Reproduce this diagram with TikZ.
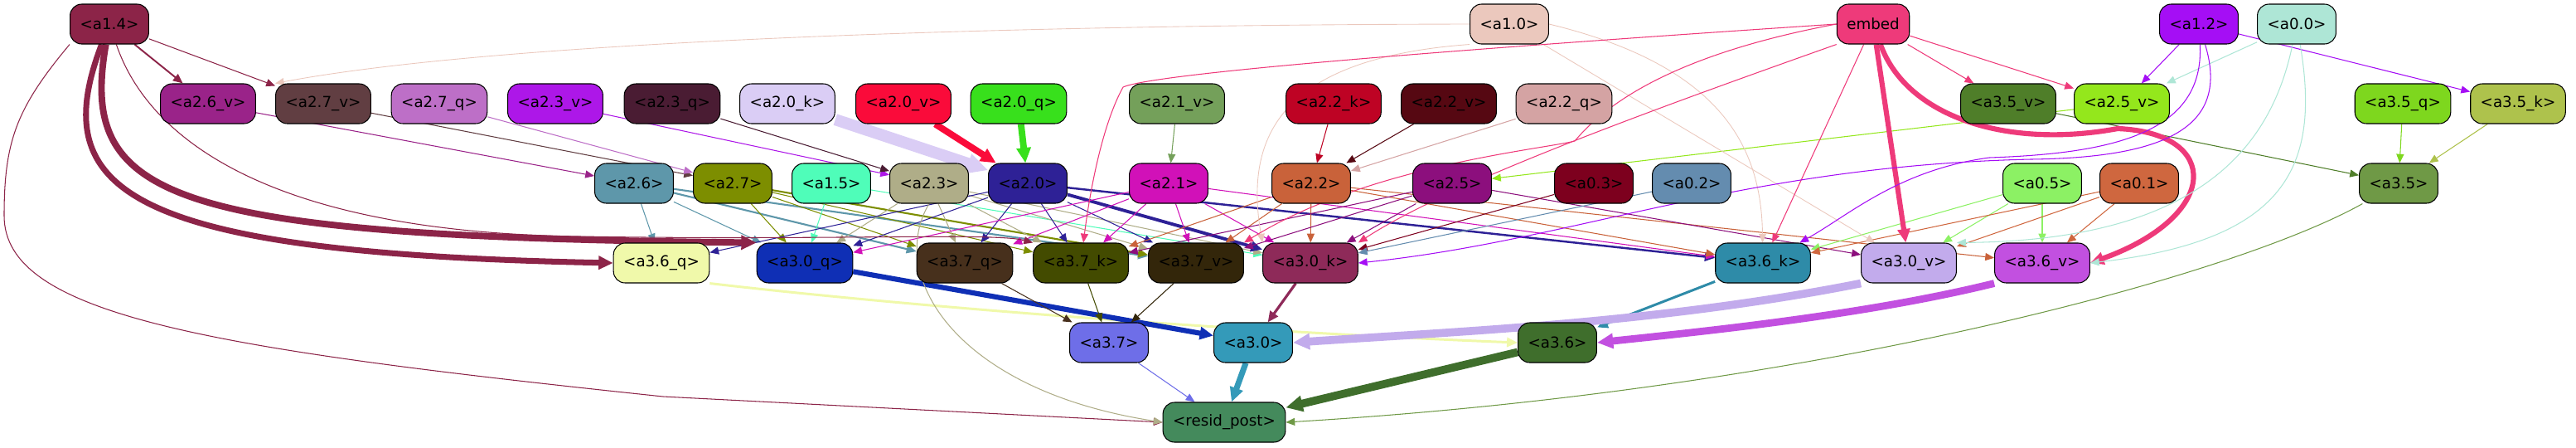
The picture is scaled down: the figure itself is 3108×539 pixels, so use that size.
\documentclass[tikz,border=0pt]{standalone}
\usepackage{fontspec}
\setmainfont{DejaVu Sans}
\usetikzlibrary{arrows.meta,backgrounds}

\definecolor{c14}{HTML}{8C2448}
\definecolor{c10}{HTML}{EBC8BD}
\definecolor{cemb}{HTML}{EE3A7A}
\definecolor{c12}{HTML}{A50EF5}
\definecolor{c00}{HTML}{AEE6D6}
\definecolor{c26v}{HTML}{9A2389}
\definecolor{c27v}{HTML}{613E42}
\definecolor{c27q}{HTML}{BD6FC7}
\definecolor{c23v}{HTML}{AD17E8}
\definecolor{c23q}{HTML}{4A1C33}
\definecolor{c20k}{HTML}{DACDF5}
\definecolor{c20v}{HTML}{FA0B3A}
\definecolor{c20q}{HTML}{38E01C}
\definecolor{c21v}{HTML}{74A05A}
\definecolor{c22k}{HTML}{BE0324}
\definecolor{c22v}{HTML}{560812}
\definecolor{c22q}{HTML}{D4A3A3}
\definecolor{c35v}{HTML}{4F7E29}
\definecolor{c25v}{HTML}{94E71C}
\definecolor{c35q}{HTML}{7ED71E}
\definecolor{c35k}{HTML}{AEC24C}
\definecolor{c26}{HTML}{5E97AA}
\definecolor{c27}{HTML}{7D8E00}
\definecolor{c15}{HTML}{4FFDB9}
\definecolor{c23}{HTML}{AFAD88}
\definecolor{c20}{HTML}{2E2196}
\definecolor{c21}{HTML}{D111B8}
\definecolor{c22}{HTML}{C9623A}
\definecolor{c25}{HTML}{8C0F7D}
\definecolor{c03}{HTML}{7D001E}
\definecolor{c02}{HTML}{648CAF}
\definecolor{c05}{HTML}{8CF164}
\definecolor{c01}{HTML}{CF673F}
\definecolor{c35}{HTML}{6F9946}
\definecolor{c36q}{HTML}{F0F9AA}
\definecolor{c30q}{HTML}{0F2FB5}
\definecolor{c37q}{HTML}{47301C}
\definecolor{c37k}{HTML}{434B00}
\definecolor{c37v}{HTML}{33260A}
\definecolor{c30k}{HTML}{8E2A59}
\definecolor{c36k}{HTML}{2E8BA8}
\definecolor{c30v}{HTML}{C2ABEC}
\definecolor{c36v}{HTML}{C250E0}
\definecolor{c37}{HTML}{6E6EE8}
\definecolor{c30}{HTML}{349AB9}
\definecolor{c36}{HTML}{3F6E2C}
\definecolor{cres}{HTML}{448A5C}

\tikzset{
  box/.style={draw=black, line width=0.6pt, rounded corners=0.28cm, minimum height=0.96cm,
    inner xsep=0.24cm, inner ysep=0pt, font=\fontsize{10.4}{12}\selectfont},
  wire/.style={line width=0.6pt, -{Triangle[length=5.5pt 1.1, width=4.5pt 1.1]}},
}

\begin{document}
\begin{tikzpicture}[x=0.02cm,y=-0.02cm]
\useasboundingbox (0,0) rectangle (3108,539);

% row 1
\node[box, fill=c14] (a14) at (132,29) {<a1.4>};
\node[box, fill=c10] (a10) at (1821,29) {<a1.0>};
\node[box, fill=cemb] (embed) at (2260,29) {embed};
\node[box, fill=c12] (a12) at (2653,29) {<a1.2>};
\node[box, fill=c00] (a00) at (2771,29) {<a0.0>};

% row 2
\node[box, fill=c26v] (a26v) at (251,125) {<a2.6\_v>};
\node[box, fill=c27v] (a27v) at (390,125) {<a2.7\_v>};
\node[box, fill=c27q] (a27q) at (530,125) {<a2.7\_q>};
\node[box, fill=c23v] (a23v) at (670,125) {<a2.3\_v>};
\node[box, fill=c23q] (a23q) at (811,125) {<a2.3\_q>};
\node[box, fill=c20k] (a20k) at (950,125) {<a2.0\_k>};
\node[box, fill=c20v] (a20v) at (1090,125) {<a2.0\_v>};
\node[box, fill=c20q] (a20q) at (1229,125) {<a2.0\_q>};
\node[box, fill=c21v] (a21v) at (1420,125) {<a2.1\_v>};
\node[box, fill=c22k] (a22k) at (1609,125) {<a2.2\_k>};
\node[box, fill=c22v] (a22v) at (1748,125) {<a2.2\_v>};
\node[box, fill=c22q] (a22q) at (1887,125) {<a2.2\_q>};
\node[box, fill=c35v] (a35v) at (2423,125) {<a3.5\_v>};
\node[box, fill=c25v] (a25v) at (2560,125) {<a2.5\_v>};
\node[box, fill=c35q] (a35q) at (2899,125) {<a3.5\_q>};
\node[box, fill=c35k] (a35k) at (3038,125) {<a3.5\_k>};

% row 3
\node[box, fill=c26] (a26) at (765,221) {<a2.6>};
\node[box, fill=c27] (a27) at (884,221) {<a2.7>};
\node[box, fill=c15] (a15) at (1003,221) {<a1.5>};
\node[box, fill=c23] (a23) at (1121,221) {<a2.3>};
\node[box, fill=c20] (a20) at (1240,221) {<a2.0>};
\node[box, fill=c21] (a21) at (1410,221) {<a2.1>};
\node[box, fill=c22] (a22) at (1582,221) {<a2.2>};
\node[box, fill=c25] (a25) at (1752,221) {<a2.5>};
\node[box, fill=c03] (a03) at (1923,221) {<a0.3>};
\node[box, fill=c02] (a02) at (2041,221) {<a0.2>};
\node[box, fill=c05] (a05) at (2464,221) {<a0.5>};
\node[box, fill=c01] (a01) at (2581,221) {<a0.1>};
\node[box, fill=c35] (a35) at (2894,221) {<a3.5>};

% row 4
\node[box, fill=c36q] (a36q) at (798,317) {<a3.6\_q>};
\node[box, fill=c30q] (a30q) at (971,317) {<a3.0\_q>};
\node[box, fill=c37q] (a37q) at (1164,317) {<a3.7\_q>};
\node[box, fill=c37k] (a37k) at (1304,317) {<a3.7\_k>};
\node[box, fill=c37v] (a37v) at (1443,317) {<a3.7\_v>};
\node[box, fill=c30k] (a30k) at (1581,317) {<a3.0\_k>};
\node[box, fill=c36k] (a36k) at (2127,317) {<a3.6\_k>};
\node[box, fill=c30v] (a30v) at (2303,317) {<a3.0\_v>};
\node[box, fill=c36v] (a36v) at (2464,317) {<a3.6\_v>};

% row 5 and output
\node[box, fill=c37] (a37) at (1338,413) {<a3.7>};
\node[box, fill=c30] (a30) at (1512,413) {<a3.0>};
\node[box, fill=c36] (a36) at (1879,413) {<a3.6>};
\node[box, fill=cres] (resid) at (1477,509) {<resid\_post>};

\begin{scope}[on background layer]
% into row 2
\path[draw=c14,wire,line width=1.1pt] (a14) -- (a26v);
\path[draw=c14,wire] (a14) -- (a27v);
\path[draw=c10,wire,line width=0.5pt] (a10.west) .. controls (1200,30) and (600,50) .. (a27v.north west);
\path[draw=cemb,wire] (embed) -- (a35v);
\path[draw=cemb,wire] (embed) -- (a25v);
\path[draw=c12,wire] (a12) -- (a25v);
\path[draw=c00,wire] (a00) -- (a25v);
\path[draw=c12,wire] (a12) -- (a35k);

% into row 3
\path[draw=c26v,wire] (a26v) -- (a26);
\path[draw=c27v,wire] (a27v) -- (a27);
\path[draw=c27q,wire] (a27q) -- (a27);
\path[draw=c23v,wire] (a23v) -- (a23);
\path[draw=c23q,wire] (a23q) -- (a23);
\path[draw=c20k,wire,line width=8pt] (a20k) -- (a20);
\path[draw=c20v,wire,line width=4.5pt] (a20v) -- (a20);
\path[draw=c20q,wire,line width=4.5pt] (a20q) -- (a20);
\path[draw=c21v,wire] (a21v) -- (a21);
\path[draw=c22k,wire] (a22k) -- (a22);
\path[draw=c22v,wire] (a22v) -- (a22);
\path[draw=c22q,wire] (a22q) -- (a22);
\path[draw=c25v,wire] (a25v) -- (a25);
\path[draw=c35v,wire] (a35v) -- (a35);
\path[draw=c35q,wire] (a35q) -- (a35);
\path[draw=c35k,wire] (a35k) -- (a35);

% into row 4
\path[draw=c26,wire] (a26) -- (a36q);
\path[draw=c26,wire] (a26) -- (a30q);
\path[draw=c26,wire,line width=1.2pt] (a26) -- (a37q);
\path[draw=c26,wire,line width=1.2pt] (a26) -- (a37v);
\path[draw=c27,wire] (a27) -- (a30q);
\path[draw=c27,wire] (a27) -- (a37q);
\path[draw=c27,wire] (a27) -- (a37k);
\path[draw=c27,wire,line width=1.2pt] (a27) -- (a37v);
\path[draw=c15,wire] (a15) -- (a30q);
\path[draw=c15,wire] (a15) -- (a30k);
\path[draw=c23,wire] (a23) -- (a30q);
\path[draw=c23,wire] (a23) -- (a37q);
\path[draw=c23,wire] (a23) -- (a37k);
\path[draw=c23,wire] (a23) -- (a37v);
\path[draw=c23,wire] (a23) -- (a30k);
\path[draw=c20,wire] (a20) -- (a36q);
\path[draw=c20,wire] (a20) -- (a30q);
\path[draw=c20,wire] (a20) -- (a37q);
\path[draw=c20,wire] (a20) -- (a37k);
\path[draw=c20,wire] (a20) -- (a37v);
\path[draw=c20,wire,line width=2.2pt] (a20) -- (a30k);
\path[draw=c20,wire,line width=1.4pt] (a20) -- (a36k);
\path[draw=c21,wire] (a21) -- (a30q);
\path[draw=c21,wire] (a21) -- (a37q);
\path[draw=c21,wire] (a21) -- (a37k);
\path[draw=c21,wire] (a21) -- (a37v);
\path[draw=c21,wire] (a21) -- (a30k);
\path[draw=c21,wire] (a21) -- (a36k);
\path[draw=c22,wire] (a22) -- (a37k);
\path[draw=c22,wire] (a22) -- (a37v);
\path[draw=c22,wire] (a22) -- (a30k);
\path[draw=c22,wire] (a22) -- (a36k);
\path[draw=c22,wire] (a22) -- (a36v);
\path[draw=c25,wire] (a25) -- (a37k);
\path[draw=c25,wire] (a25) -- (a37v);
\path[draw=c25,wire] (a25) -- (a30k);
\path[draw=c25,wire] (a25) -- (a30v);
\path[draw=c03,wire] (a03) -- (a30k);
\path[draw=c02,wire] (a02) -- (a30k);
\path[draw=c05,wire] (a05) -- (a36k);
\path[draw=c05,wire] (a05) -- (a30v);
\path[draw=c05,wire] (a05) -- (a36v);
\path[draw=c01,wire] (a01) -- (a36k);
\path[draw=c01,wire] (a01) -- (a30v);
\path[draw=c01,wire] (a01) -- (a36v);

% long ones from the top row
\path[draw=c14,wire,line width=4pt] (a14) .. controls (55,230) and (150,305) .. (a36q.west);
\path[draw=c14,wire,line width=4.5pt] (a14) .. controls (95,240) and (200,285) .. (a30q.north west);
\path[draw=c14,wire,line width=0.6pt] (a14) .. controls (180,170) and (330,280) .. (700,285) .. controls (1000,290) and (1200,280) .. (a37k.north west);
\path[draw=c14,wire,line width=0.6pt] (a14.south west) .. controls (20,130) and (5,170) .. (5,260) .. controls (5,380) and (250,420) .. (800,478) -- (resid.west);
\path[draw=c10,wire,line width=0.5pt] (a10.south west) .. controls (1550,70) and (1500,160) .. (a30k.north west);
\path[draw=c10,wire,line width=0.5pt] (a10.east) .. controls (2080,80) and (2125,180) .. (a36k);
\path[draw=c10,wire,line width=0.5pt] (a10) -- (a30v);
\path[draw=cemb,wire] (embed.west) .. controls (1900,50) and (1400,85) .. (1355,105) .. controls (1330,150) and (1315,230) .. (a37k);
\path[draw=cemb,wire] (embed.west) .. controls (2050,60) and (1950,110) .. (1900,170) .. controls (1860,180) and (1650,200) .. (a37v.north east);
\path[draw=cemb,wire] (embed.south west) .. controls (2000,130) and (1750,220) .. (a30k.north east);
\path[draw=cemb,wire] (embed) -- (a36k);
\path[draw=cemb,wire,line width=3.5pt] (embed) -- (a30v);
\path[draw=cemb,wire,line width=3.5pt] (embed) .. controls (2300,140) and (2420,180) .. (2555,155) .. controls (2680,160) and (2680,260) .. (a36v.east);
\path[draw=c12,wire] (a12) .. controls (2660,160) and (2550,185) .. (2400,190) .. controls (2290,205) and (2230,260) .. (a36k);
\path[draw=c12,wire] (a12) .. controls (2690,150) and (2620,190) .. (2450,192) .. controls (2100,200) and (1900,290) .. (a30k.east);
\path[draw=c00,wire] (a00) .. controls (2740,180) and (2650,290) .. (a30v.north east);
\path[draw=c00,wire] (a00) .. controls (2800,200) and (2760,290) .. (a36v.east);

% into row 5
\path[draw=c36q,wire,line width=1.7pt] (a36q.south east) .. controls (1100,370) and (1500,400) .. (a36.west);
\path[draw=c30q,wire,line width=3.5pt] (a30q) -- (a30);
\path[draw=c37q,wire] (a37q) -- (a37);
\path[draw=c37k,wire] (a37k) -- (a37);
\path[draw=c37v,wire] (a37v) -- (a37);
\path[draw=c30k,wire,line width=1.8pt] (a30k) -- (a30);
\path[draw=c36k,wire,line width=1.7pt] (a36k) -- (a36);
\path[draw=c30v,wire,line width=5.5pt] (a30v.south west) .. controls (2000,390) and (1750,400) .. (a30.east);
\path[draw=c36v,wire,line width=5pt] (a36v.south west) .. controls (2250,380) and (2050,400) .. (a36.east);

% into the output
\path[draw=c37,wire] (a37) -- (resid);
\path[draw=c30,wire,line width=4pt] (a30) -- (resid);
\path[draw=c36,wire,line width=5.5pt] (a36) -- (resid);
\path[draw=c35,wire] (a35) .. controls (2700,330) and (2200,470) .. (resid.east);
\path[draw=c23,wire] (a23.south) .. controls (1070,330) and (1150,470) .. (resid.west);
\end{scope}
\end{tikzpicture}
\end{document}
